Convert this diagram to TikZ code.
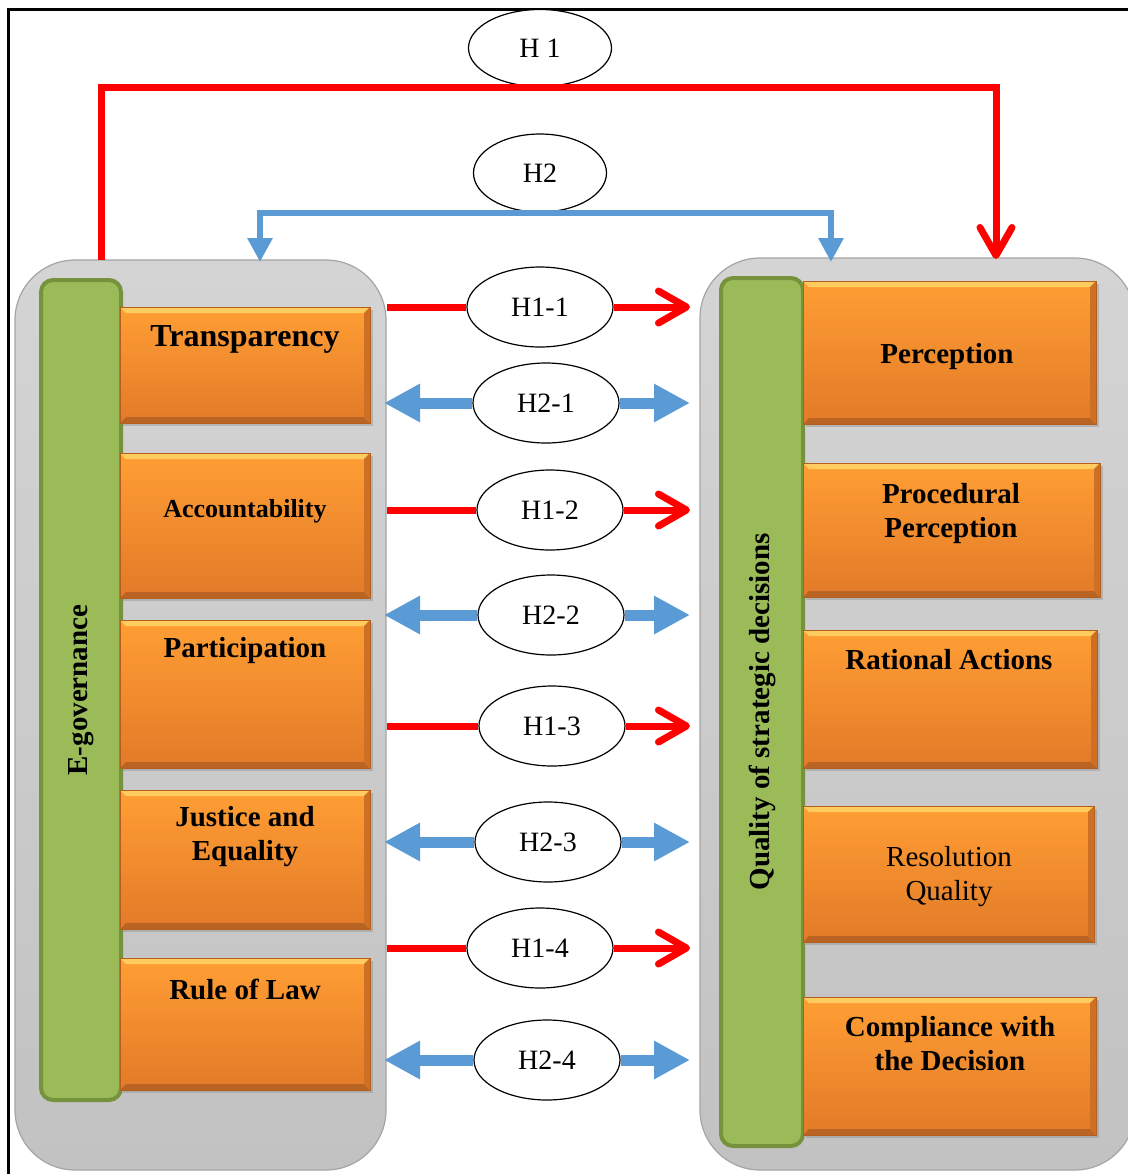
\documentclass[tikz,border=0pt]{standalone}
\usepackage{fontspec}
\setmainfont{Liberation Serif}
\usetikzlibrary{arrows.meta,shapes.geometric,shadows}

\definecolor{hredline}{RGB}{255,0,0}
\definecolor{hblue}{RGB}{91,155,213}
\definecolor{greenfill}{RGB}{155,187,89}
\definecolor{greenedge}{RGB}{118,146,60}
\definecolor{orangetop}{RGB}{255,158,52}
\definecolor{orangebot}{RGB}{226,122,40}
\definecolor{orangeedge}{RGB}{180,95,30}
\definecolor{orangelight}{RGB}{255,205,95}
\definecolor{orangedark}{RGB}{185,100,35}
\definecolor{orangeside}{RGB}{205,112,38}
\definecolor{paneltop}{RGB}{212,212,212}
\definecolor{panelbot}{RGB}{194,194,194}
\definecolor{paneledge}{RGB}{165,165,165}

\begin{document}
\begin{tikzpicture}[x=0.5pt, y=-0.5pt,
    panel/.style={draw=paneledge, line width=0.6pt, rounded corners=30pt, top color=paneltop, bottom color=panelbot},
    gbar/.style={draw=greenedge, line width=2pt, fill=greenfill, rounded corners=6pt, rotate=90, font=\bfseries\fontsize{14.5}{17}\selectfont},
    obox/.style={draw=orangeedge, line width=0.5pt, top color=orangetop, bottom color=orangebot,
      drop shadow={shadow xshift=1.5pt, shadow yshift=-1.5pt, opacity=0.35},
      path picture={
        \fill [orangelight] (path picture bounding box.north west) -- (path picture bounding box.north east)
          -- ([xshift=-3pt, yshift=-3pt]path picture bounding box.north east) -- ([xshift=3pt, yshift=-3pt]path picture bounding box.north west) -- cycle;
        \fill [orangedark] (path picture bounding box.south west) -- (path picture bounding box.south east)
          -- ([xshift=-3pt, yshift=3pt]path picture bounding box.south east) -- ([xshift=3pt, yshift=3pt]path picture bounding box.south west) -- cycle;
        \fill [orangeside] (path picture bounding box.north east) -- (path picture bounding box.south east)
          -- ([xshift=-3pt, yshift=3pt]path picture bounding box.south east) -- ([xshift=-3pt, yshift=-3pt]path picture bounding box.north east) -- cycle;
      }},
    otext/.style={align=center, font=\bfseries\fontsize{14.5}{17}\selectfont},
    hyp/.style={ellipse, draw, line width=0.6pt, fill=white, inner sep=0pt, minimum width=73pt, minimum height=40pt, font=\fontsize{14}{17}\selectfont},
    redline/.style={draw=hredline, line width=3.5pt},
    redarrow/.style={redline, -{Straight Barb[length=14pt, width=16pt, round]}},
    bluearrow/.style={draw=hblue, line width=5.5pt, -{Triangle[length=18pt, width=18pt]}},
    bluetop/.style={draw=hblue, line width=3pt, {Triangle[length=12pt, width=12pt]}-{Triangle[length=12pt, width=12pt]}}
  ]
  \clip (0,0) rectangle (1128,1174);
  \draw [line width=1.5pt] (8.5,1174) -- (8.5,9) -- (1128,9);

  % the two panels
  \node [panel, minimum width=185.5pt, minimum height=455pt] (lpanel) at (200.5,715) {};
  \node [panel, minimum width=217.5pt, minimum height=456pt] (rpanel) at (917.5,714) {};
  \node [gbar, minimum width=410pt, minimum height=40pt] (egov) at (81,690) {E-governance};
  \node [gbar, minimum width=434pt, minimum height=41pt] (quality) at (762,712) {Quality of strategic decisions};

  % left boxes
  \node [obox, minimum width=125pt, minimum height=58pt] (transp) at (245,365) {};
  \node [otext, font=\bfseries\fontsize{16}{19}\selectfont] (transptxt) at (245,339) {Transparency};
  \node [obox, minimum width=125pt, minimum height=72.5pt] (account) at (245,525.5) {};
  \node [otext, font=\bfseries\fontsize{13}{16}\selectfont] (accounttxt) at (245,511) {Accountability};
  \node [obox, minimum width=125pt, minimum height=74pt] (partic) at (245,694) {};
  \node [otext] (partictxt) at (245,651) {Participation};
  \node [obox, minimum width=125pt, minimum height=69.5pt] (justice) at (245,859.5) {};
  \node [otext] (justicetxt) at (245,837) {Justice and\\Equality};
  \node [obox, minimum width=125pt, minimum height=66pt] (law) at (245,1024) {};
  \node [otext] (lawtxt) at (245,989) {Rule of Law};

  % right boxes
  \node [obox, minimum width=146.5pt, minimum height=71.5pt] (percep) at (949.5,352.5) {};
  \node [otext] (perceptxt) at (947,357) {Perception};
  \node [obox, minimum width=148.5pt, minimum height=67pt] (proced) at (951.5,530) {};
  \node [otext] (procedtxt) at (951,514) {Procedural\\Perception};
  \node [obox, minimum width=147pt, minimum height=69pt] (ration) at (950,699) {};
  \node [otext] (rationtxt) at (949,660) {Rational Actions};
  \node [obox, minimum width=145.5pt, minimum height=68pt] (resol) at (948.5,874) {};
  \node [otext, font=\fontsize{14.5}{17}\selectfont] (resoltxt) at (949,877) {Resolution\\Quality};
  \node [obox, minimum width=146.5pt, minimum height=69pt] (compl) at (949.5,1066) {};
  \node [otext] (compltxt) at (950,1044) {Compliance with\\the Decision};

  % hypotheses
  \node [hyp, minimum width=71.5pt, minimum height=38.5pt] (h1) at (540,48) {H 1};
  \node [hyp, minimum width=66.5pt, minimum height=39pt] (h2) at (540,173) {H2};
  \node [hyp] (h11) at (540,307) {H1-1};
  \node [hyp] (h21) at (546,403) {H2-1};
  \node [hyp] (h12) at (550,510) {H1-2};
  \node [hyp] (h22) at (551,615) {H2-2};
  \node [hyp] (h13) at (552,726) {H1-3};
  \node [hyp] (h23) at (548,842) {H2-3};
  \node [hyp] (h14) at (540,948) {H1-4};
  \node [hyp] (h24) at (547,1060) {H2-4};

  \coordinate (h1from) at (101,260);
  \coordinate (h1to) at (996,259);
  \coordinate (h2left) at (260,262);
  \coordinate (h2right) at (831,262);
  \coordinate (tipleft) at (384,0);
  \coordinate (tipright) at (690,0);

  % top connectors
  \draw [redarrow] (h1from) |- (h1.south) -| (h1to);
  \draw [bluetop] (h2left) |- (h2.south) -| (h2right);

  % side connectors
  \draw [redline] (lpanel.east |- h11) -- (h11);
  \draw [redarrow] (h11) -- (tipright |- h11);
  \draw [bluearrow] (h21) -- (tipleft |- h21);
  \draw [bluearrow] (h21) -- (tipright |- h21);
  \draw [redline] (lpanel.east |- h12) -- (h12);
  \draw [redarrow] (h12) -- (tipright |- h12);
  \draw [bluearrow] (h22) -- (tipleft |- h22);
  \draw [bluearrow] (h22) -- (tipright |- h22);
  \draw [redline] (lpanel.east |- h13) -- (h13);
  \draw [redarrow] (h13) -- (tipright |- h13);
  \draw [bluearrow] (h23) -- (tipleft |- h23);
  \draw [bluearrow] (h23) -- (tipright |- h23);
  \draw [redline] (lpanel.east |- h14) -- (h14);
  \draw [redarrow] (h14) -- (tipright |- h14);
  \draw [bluearrow] (h24) -- (tipleft |- h24);
  \draw [bluearrow] (h24) -- (tipright |- h24);
\end{tikzpicture}
\end{document}
